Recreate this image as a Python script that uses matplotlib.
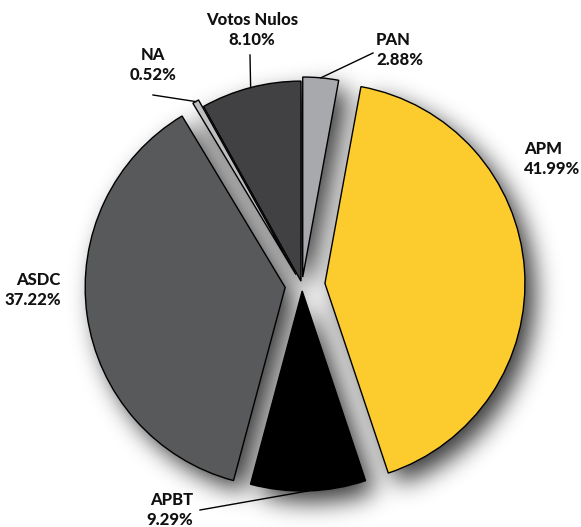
import matplotlib
matplotlib.use('Agg')
import matplotlib.pyplot as plt
from matplotlib import font_manager as fm
import numpy as np

# pick the heaviest installed face of a sans family
def _w(f):
    return f.weight if isinstance(f.weight, int) else fm.weight_dict.get(f.weight, 400)

label_family, label_weight = 'DejaVu Sans', 'bold'
for fam in ['Lato', 'Open Sans', 'Roboto', 'Inter', 'Noto Sans']:
    weights = [_w(f) for f in fm.fontManager.ttflist if f.name == fam]
    if weights and max(weights) >= 700:
        label_family, label_weight = fam, max(w for w in weights if w <= 900)
        break
plt.rcParams['font.family'] = [label_family, 'DejaVu Sans']

# data, clockwise from the top
parties = ['PAN', 'APM', 'APBT', 'ASDC', 'NA', 'Votos Nulos']
shares = [2.88, 41.99, 9.29, 37.22, 0.52, 8.10]
colors = ['#A7A9AC', '#FCCC2F', '#000000', '#58595B', '#BCBEC0', '#414042']
explode = [0.04, 0.115, 0.03, 0.085, 0.06, 0.02]

W, H = 581, 527
fig = plt.figure(figsize=(W / 100, H / 100), dpi=100)
ax = fig.add_axes([0, 0, 1, 1])

center = (302, 242)
radius = 200
# pie's explode is in data units, so scale the fractions by the radius
wedges, _ = ax.pie(shares, colors=colors, explode=[e * radius for e in explode],
                   startangle=90, counterclock=False, radius=radius, center=center,
                   wedgeprops={'edgecolor': 'black', 'linewidth': 1.0},
                   frame=True)
ax.set_xlim(0, W)
ax.set_ylim(0, H)
ax.set_aspect('equal', adjustable='box')
ax.axis('off')

# soft drop shadow: blurred union of the exploded wedges, shifted down-right
xs = np.arange(W) + 0.5
ys = np.arange(H) + 0.5
X, Y = np.meshgrid(xs, ys)
mask = np.zeros((H, W))
for w in wedges:
    cx, cy = w.center
    dx, dy = X - cx, Y - cy
    ang = np.degrees(np.arctan2(dy, dx)) % 360
    inside = (dx**2 + dy**2 <= w.r**2) & (((ang - w.theta1) % 360) <= (w.theta2 - w.theta1))
    mask[inside] = 1.0
shift_x, shift_y = 10, -11
mask = np.roll(np.roll(mask, shift_x, axis=1), shift_y, axis=0)
sigma = 12
k = np.arange(-3 * sigma, 3 * sigma + 1)
kernel = np.exp(-k**2 / (2 * sigma**2))
kernel /= kernel.sum()
blur = np.apply_along_axis(lambda r: np.convolve(r, kernel, mode='same'), 1, mask)
blur = np.apply_along_axis(lambda c: np.convolve(c, kernel, mode='same'), 0, blur)
shadow = np.zeros((H, W, 4))
shadow[..., 3] = np.clip(blur, 0, 1) * 0.78
ax.imshow(shadow, origin='lower', extent=(0, W, 0, H), zorder=0, interpolation='bilinear')
for w in wedges:
    w.set_zorder(2)

# labels (text anchor positions in pixels, y measured from the bottom)
label_pos = {
    'Votos Nulos': (252, H - 30, 'center'),
    'NA': (153, H - 65, 'center'),
    'PAN': (376, H - 50, 'left'),
    'APM': (524, H - 159, 'left'),
    'ASDC': (61, H - 290, 'right'),
    'APBT': (193, H - 510, 'right'),
}
leaders = {'Votos Nulos': (250, H - 55), 'NA': (153, H - 95), 'PAN': (373, H - 53),
           'APBT': (200, H - 510)}

for w, name, val in zip(wedges, parties, shares):
    x, y, ha = label_pos[name]
    ax.text(x, y, f'{name}\n{val:.2f}%', ha=ha, va='center', fontsize=12,
            fontweight=label_weight, linespacing=1.35, color='#111111', zorder=5)
    if name in leaders:
        mid = np.radians((w.theta1 + w.theta2) / 2)
        ex = w.center[0] + w.r * np.cos(mid)
        ey = w.center[1] + w.r * np.sin(mid)
        lx, ly = leaders[name]
        ax.plot([lx, ex], [ly, ey], color='black', lw=1.0, zorder=4)

fig.savefig('out.png', dpi=100)
